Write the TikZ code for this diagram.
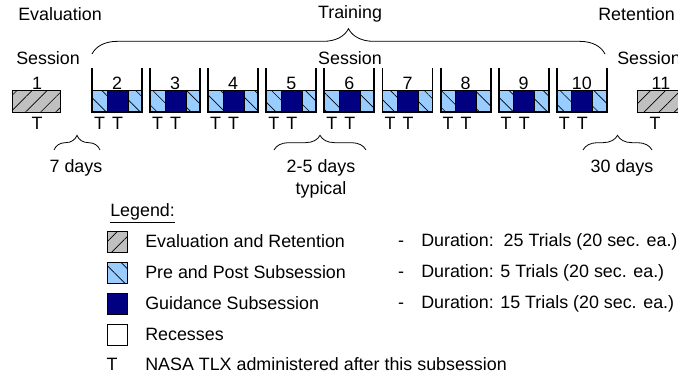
\documentclass[tikz,border=0pt]{standalone}
\usepackage{fontspec}
\setmainfont{Liberation Sans}
\usetikzlibrary{patterns.meta,decorations.pathreplacing}
\definecolor{evalgray}{RGB}{192,192,192}
\definecolor{prepost}{RGB}{153,204,255}
\definecolor{guide}{RGB}{0,0,128}
\tikzset{
  txt/.style={font=\fontsize{13.4}{16}\selectfont, inner sep=0pt},
  evalbox/.style={draw=black, line width=0.6pt, fill=evalgray,
    postaction={pattern={Lines[angle=45,distance=8pt,line width=0.5pt]}}},
  prepostbox/.style={draw=black, line width=0.6pt, fill=prepost,
    postaction={pattern={Lines[angle=-45,distance=9pt,line width=0.5pt]}}},
  guidebox/.style={draw=black, line width=0.6pt, fill=guide},
  recessbox/.style={draw=black, line width=0.6pt, fill=white},
  wall/.style={draw=black, line width=1.4pt},
  bigbrace/.style={decorate, decoration={brace, amplitude=19pt}, line width=0.6pt},
  smallbrace/.style={decorate, decoration={brace, amplitude=11pt}, line width=0.6pt},
}
\begin{document}
\begin{tikzpicture}[x=0.75pt, y=-0.75pt]
    \useasboundingbox (0,0) rectangle (678,379);

    \node[txt, anchor=west] (eval) at (18,14) {Evaluation};
    \node[txt] (train) at (350,14) {Training};
    \node[txt, anchor=west] (ret) at (598,14) {Retention};
    \node[txt, anchor=west] (sess_l) at (16,58) {Session};
    \node[txt] (sess_m) at (350,58) {Session};
    \node[txt, anchor=west] (sess_r) at (617,58) {Session};

    % evaluation and retention sessions
    \draw[evalbox] (12,90) rectangle (60,112);
    \node[txt] (num1) at (37,83) {1};
    \node[txt] (t1) at (37,123) {T};
    \draw[evalbox] (637,90) rectangle (685,112);
    \node[txt] (num11) at (661,83) {11};
    \node[txt] (t11) at (655,123) {T};

    % training sessions
    \foreach \s [count=\k from 0] in {2,...,10} {
        \pgfmathsetmacro\xl{92+58.1*\k}
        \draw[prepostbox] (\xl,90) rectangle ++(15,22);
        \draw[guidebox] (\xl+15,90) rectangle ++(21,22);
        \draw[prepostbox] (\xl+36,90) rectangle ++(14,22);
        \draw[wall] (\xl,68) -- (\xl,112) -- (\xl+50,112) -- (\xl+50,68);
        \node[txt] (num\s) at (\xl+25,83) {\s};
        \node[txt] (tpre\s) at (\xl+7.5,123) {T};
        \node[txt] (tpost\s) at (\xl+25.5,123) {T};
    }

    \coordinate (tb_l) at (92,54);
    \coordinate (tb_r) at (605,54);
    \draw[bigbrace] (tb_l) -- (tb_r);

    \coordinate (d7_l) at (54,150);
    \coordinate (d7_r) at (100,150);
    \draw[smallbrace] (d7_l) -- (d7_r);
    \node[txt] (d7) at (76,168) {7 days};

    \coordinate (d25_l) at (274,150);
    \coordinate (d25_r) at (366,150);
    \draw[smallbrace] (d25_l) -- (d25_r);
    \node[txt, align=center] (d25) at (321,179) {2-5 days\\typical};

    \coordinate (d30_l) at (583,150);
    \coordinate (d30_r) at (652,150);
    \draw[smallbrace] (d30_l) -- (d30_r);
    \node[txt] (d30) at (622,168) {30 days};

    % legend
    \node[txt, anchor=west] (leg) at (110,213) {\underline{Legend:}};
    \draw[evalbox] (107,231) rectangle ++(20,21);
    \draw[prepostbox] (107,262) rectangle ++(20,21);
    \draw[guidebox] (107,293) rectangle ++(20,21);
    \draw[recessbox] (107,324) rectangle ++(20,21);
    \node[txt] (legT) at (112,364) {T};

    \node[txt, anchor=west] (l1) at (145,241) {Evaluation and Retention};
    \node[txt, anchor=west] (l2) at (145,272) {Pre and Post Subsession};
    \node[txt, anchor=west] (l3) at (145,303) {Guidance Subsession};
    \node[txt, anchor=west] (l4) at (145,334) {Recesses};
    \node[txt, anchor=west] (l5) at (145,364) {NASA TLX administered after this subsession};

    \node[txt, anchor=base west] (r1) at (421,246) {Duration:\ \ 25 Trials (20 sec. ea.)};
    \node[txt, anchor=base west] (r2) at (421,277) {Duration: 5 Trials (20 sec. ea.)};
    \node[txt, anchor=base west] (r3) at (421,308) {Duration: 15 Trials (20 sec. ea.)};
    \coordinate (dashx) at (401,0);
    \node[txt, anchor=base] (dash1) at (r1.base -| dashx) {-};
    \node[txt, anchor=base] (dash2) at (r2.base -| dashx) {-};
    \node[txt, anchor=base] (dash3) at (r3.base -| dashx) {-};
\end{tikzpicture}
\end{document}
